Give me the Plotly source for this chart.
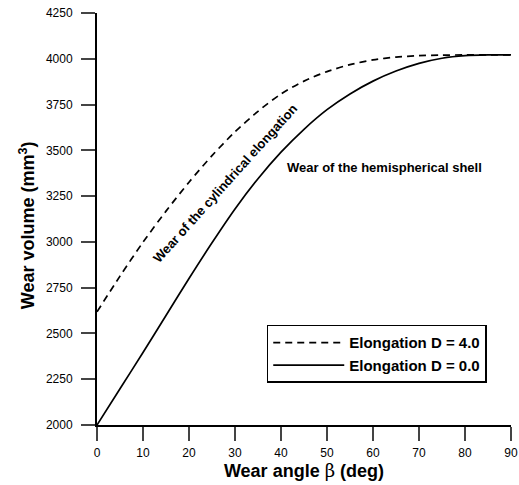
import plotly.graph_objects as go

beta = [0, 5, 10, 15, 20, 25, 30, 35, 40, 45, 50, 55, 60, 65, 70, 75, 80, 85, 90]
vol_d40 = [2618, 2813, 2998, 3168, 3326, 3471, 3601, 3713, 3808, 3878, 3930, 3968, 3994, 4009, 4017, 4020, 4021, 4021, 4021]
vol_d00 = [2000, 2198, 2396, 2598, 2800, 2995, 3180, 3345, 3490, 3615, 3722, 3808, 3878, 3933, 3975, 4003, 4017, 4021, 4021]
xticks = [0, 10, 20, 30, 40, 50, 60, 70, 80, 90]
yticks = [2000, 2250, 2500, 2750, 3000, 3250, 3500, 3750, 4000, 4250]

FONT = "Liberation Sans, Arial, sans-serif"

fig = go.Figure()
fig.add_trace(go.Scatter(x=beta, y=vol_d40, mode="lines", name="Elongation D = 4.0",
                         line=dict(color="black", width=1.7, dash="7px,5px", shape="spline", smoothing=0.8)))
fig.add_trace(go.Scatter(x=beta, y=vol_d00, mode="lines", name="Elongation D = 0.0",
                         line=dict(color="black", width=1.7, shape="spline", smoothing=0.8)))

fig.add_annotation(x=27.8, y=3321, xref="x", yref="y", text="<b>Wear of the cylindrical elongation</b>",
                   showarrow=False, textangle=-48, font=dict(family=FONT, size=13, color="black"))
fig.add_annotation(x=62.5, y=3408, xref="x", yref="y", text="<b>Wear of the hemispherical shell</b>",
                   showarrow=False, font=dict(family=FONT, size=13, color="black"))
fig.add_annotation(x=-0.169, y=0.485, xref="paper", yref="paper", xanchor="center", yanchor="middle",
                   text="<b>Wear volume (mm<sup>3</sup>)</b>", textangle=-90,
                   showarrow=False, font=dict(family=FONT, size=18, color="black"))

fig.update_layout(
    width=519, height=485,
    margin=dict(l=97, r=8, t=13, b=60, autoexpand=False),
    paper_bgcolor="white", plot_bgcolor="white",
    font=dict(family=FONT, color="black", size=12),
    showlegend=True,
    hovermode=False,
    legend=dict(x=0.41, y=0.243, xanchor="left", yanchor="top",
                bordercolor="black", borderwidth=1.5, bgcolor="white",
                font=dict(family=FONT, size=15, color="black", weight="bold"),
                itemwidth=71, tracegroupgap=0),
    xaxis=dict(range=[0, 90], tickvals=xticks, ticks="outside", ticklen=14, tickwidth=2,
               showline=True, linecolor="black", linewidth=2, showgrid=False, zeroline=False,
               automargin=False, tickfont=dict(size=12), ticklabelstandoff=2, ticklabeloverflow="allow",
               title=dict(text="<b>Wear angle </b><span style=\"font-family:'DejaVu Serif'\">β</span><b> (deg)</b>",
                          font=dict(size=18), standoff=4)),
    yaxis=dict(range=[2000, 4250], tickvals=yticks, ticks="outside", ticklen=14, tickwidth=2,
               showline=True, linecolor="black", linewidth=2, showgrid=False, zeroline=False,
               automargin=False, tickfont=dict(size=12), ticklabelstandoff=6, ticklabeloverflow="allow"),
)

fig.write_html("out.html", config={"displayModeBar": False},
               post_script="document.body.style.margin='0';document.body.style.overflow='hidden';")
